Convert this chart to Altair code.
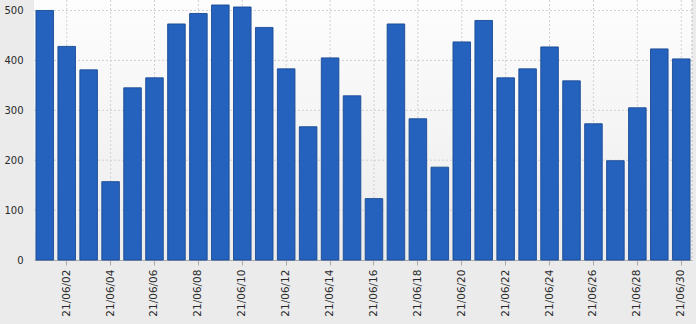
import altair as alt
import pandas as pd

days = ["21/06/01", "21/06/02", "21/06/03", "21/06/04", "21/06/05", "21/06/06",
        "21/06/07", "21/06/08", "21/06/09", "21/06/10", "21/06/11", "21/06/12",
        "21/06/13", "21/06/14", "21/06/15", "21/06/16", "21/06/17", "21/06/18",
        "21/06/19", "21/06/20", "21/06/21", "21/06/22", "21/06/23", "21/06/24",
        "21/06/25", "21/06/26", "21/06/27", "21/06/28", "21/06/29", "21/06/30"]
values = [500, 428, 381, 157, 345, 365, 473, 494, 511, 507,
          466, 383, 267, 405, 329, 123, 473, 283, 186, 437,
          480, 365, 383, 427, 359, 273, 199, 305, 423, 403]
x_ticks = ["21/06/02", "21/06/04", "21/06/06", "21/06/08", "21/06/10",
           "21/06/12", "21/06/14", "21/06/16", "21/06/18", "21/06/20",
           "21/06/22", "21/06/24", "21/06/26", "21/06/28", "21/06/30"]
y_ticks = [0, 100, 200, 300, 400, 500]

W, H = 658, 260
GRID = "#d0d0d0"

df = pd.DataFrame({"day": days, "value": values})
xscale = alt.Scale(domain=days, paddingInner=0.2, paddingOuter=0.09)
yscale = alt.Scale(domain=[0, 521], nice=False)

xaxis = alt.Axis(
    title=None, values=x_ticks, labelAngle=270, labelAlign="right",
    labelBaseline="middle", labelFont="DejaVu Sans", labelFontSize=10.5,
    labelColor="#2a2a2a", tickColor="#aaaaaa", tickSize=5, labelPadding=4,
    domainColor="#a8a8a8", grid=False, bandPosition=0.5, labelOverlap=False,
)
yaxis = alt.Axis(
    title=None, values=y_ticks, ticks=False, labelPadding=11,
    labelFont="DejaVu Sans", labelFontSize=10, labelColor="#2a2a2a",
    domainColor="#b8b8b8", domainDash=[2, 2], grid=False,
)

bg = alt.Chart(alt.Data(values=[{}])).mark_rect(
    color=alt.LinearGradient(
        gradient="linear",
        stops=[alt.GradientStop(color="#fdfdfd", offset=0),
               alt.GradientStop(color="#ececec", offset=1)],
        x1=0, x2=0, y1=0, y2=1,
    )
).encode(x=alt.value(0), x2=alt.value(W), y=alt.value(0), y2=alt.value(H))

vgrid = alt.Chart(pd.DataFrame({"day": x_ticks})).mark_rule(
    color=GRID, strokeDash=[2, 2], strokeWidth=1
).encode(x=alt.X("day:N", scale=xscale, axis=xaxis))

hgrid = alt.Chart(pd.DataFrame({"value": y_ticks[1:]})).mark_rule(
    color=GRID, strokeDash=[2, 2], strokeWidth=1
).encode(y=alt.Y("value:Q", scale=yscale, axis=yaxis))

right_border = alt.Chart(alt.Data(values=[{}])).mark_rule(
    color="#c0c0c0", strokeDash=[2, 2], strokeWidth=1
).encode(x=alt.value(W), y=alt.value(0), y2=alt.value(H))

bars = alt.Chart(df).mark_bar(
    color="#2462be", stroke="#1b4a94", strokeWidth=1, strokeOpacity=0.9
).encode(
    x=alt.X("day:N", scale=xscale, axis=xaxis),
    y=alt.Y("value:Q", scale=yscale, axis=yaxis),
)

chart = alt.layer(bg, vgrid, hgrid, right_border, bars).properties(
    width=W, height=H,
    autosize=alt.AutoSizeParams(type="none"),
    padding={"left": 34, "top": 0, "right": 4, "bottom": 64},
    background="#ebebeb",
).configure_view(stroke=None)

chart.save("out.html", embed_options={"renderer": "svg", "actions": False})
